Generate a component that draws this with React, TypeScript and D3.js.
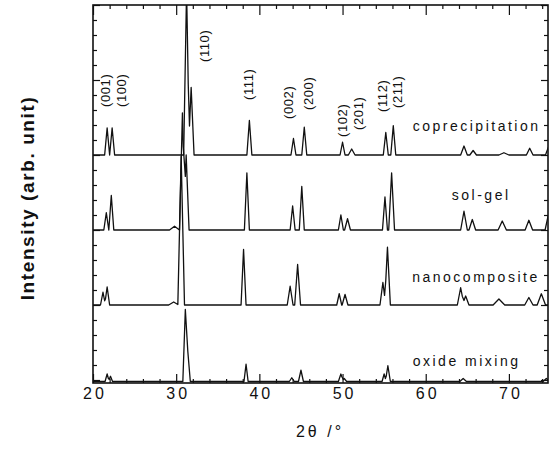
import React, { useEffect, useRef } from "react";
import * as d3 from "d3";

const W = 550, H = 452;
const margin = { top: 5, right: 2, bottom: 69, left: 93 };
const X_MIN = 20, X_MAX = 74.7;

const xTicks = [20, 30, 40, 50, 60, 70];
const seriesNames = ["coprecipitation", "sol-gel", "nanocomposite", "oxide mixing"];
const seriesOffsets = [15, 10, 5, -0.1];

// peaks: [2theta, height (arb.), half width at base]
const coprecipitationPeaks = [
  [21.7, 1.8, 0.3], [22.3, 1.8, 0.3], [31.25, 11, 0.35], [31.8, 4.5, 0.35],
  [38.8, 2.3, 0.3], [44.1, 1.1, 0.3], [45.4, 1.85, 0.3], [50.0, 0.85, 0.3],
  [51.1, 0.4, 0.4], [55.2, 1.5, 0.3], [56.1, 1.95, 0.3], [64.6, 0.6, 0.4],
  [65.7, 0.3, 0.4], [69.4, 0.15, 0.6], [72.5, 0.45, 0.4], [74.8, 0.6, 0.4],
];
const solGelPeaks = [
  [21.6, 1.15, 0.3], [22.2, 2.3, 0.3], [29.8, 0.25, 0.6], [30.75, 7.8, 0.35],
  [31.2, 5, 0.35], [38.5, 3.8, 0.3], [44.0, 1.6, 0.3], [45.1, 2.9, 0.3],
  [49.8, 1.0, 0.3], [50.6, 0.75, 0.35], [55.1, 2.2, 0.3], [55.9, 3.8, 0.35],
  [64.6, 1.25, 0.4], [65.6, 0.7, 0.4], [69.2, 0.6, 0.5], [72.4, 0.65, 0.45],
  [74.7, 0.9, 0.35],
];
const nanocompositePeaks = [
  [21.2, 0.85, 0.3], [21.7, 1.2, 0.3], [29.7, 0.2, 0.6], [30.6, 9.9, 0.4],
  [38.1, 3.7, 0.3], [43.7, 1.25, 0.35], [44.6, 2.7, 0.35], [49.6, 0.75, 0.3],
  [50.3, 0.7, 0.35], [54.85, 1.5, 0.35], [55.4, 3.85, 0.35], [64.2, 1.15, 0.4],
  [64.8, 0.6, 0.4], [68.8, 0.4, 0.7], [72.4, 0.5, 0.5], [73.9, 0.75, 0.5],
];
const oxideMixingPeaks = [
  [21.7, 0.5, 0.25], [22.1, 0.35, 0.25], [31.1, 4.8, 0.3], [31.4, 2.0, 0.3],
  [38.4, 1.15, 0.25], [43.9, 0.25, 0.3], [45.0, 0.75, 0.3], [49.8, 0.5, 0.3],
  [50.2, 0.2, 0.3], [55.0, 0.5, 0.25], [55.45, 1.05, 0.3], [64.5, 0.2, 0.4],
  [74.5, 0.2, 0.4],
];
const seriesPeaks = [coprecipitationPeaks, solGelPeaks, nanocompositePeaks, oxideMixingPeaks];

// series name positions: [2theta of right end, y baseline (arb.)]
const seriesLabelPos = [[73.5, 16.6], [69.9, 12.0], [73.4, 6.55], [71.1, 0.95]];

// reflection labels: text, 2theta of centre, y of lower end
const hklLabels = ["(001)", "(100)", "(110)", "(111)", "(002)", "(200)", "(102)", "(201)", "(112)", "(211)"];
const hklX = [21.45, 23.45, 33.45, 38.75, 43.55, 45.95, 49.95, 51.95, 54.85, 56.65];
const hklY = [18.2, 18.2, 21.2, 18.67, 17.4, 18.0, 16.2, 16.67, 17.87, 18.13];

function tracePoints(peaks: number[][], offset: number): [number, number][] {
  const xs: number[] = [X_MIN, X_MAX];
  peaks.forEach(([p, , w]) => xs.push(p - w, p, p + w));
  const uniq = Array.from(new Set(xs.filter(v => v >= X_MIN - 1 && v <= X_MAX + 1))).sort((a, b) => a - b);
  return uniq.map(x => {
    let s = 0;
    peaks.forEach(([p, h, w]) => { s += Math.max(0, 1 - Math.abs(x - p) / w) * h; });
    return [x, offset + s];
  });
}

export default function App() {
  const ref = useRef<SVGSVGElement>(null);

  useEffect(() => {
    const svg = d3.select(ref.current);
    svg.selectAll("*").remove();
    const innerW = W - margin.left - margin.right;
    const innerH = H - margin.top - margin.bottom;
    const font = "'Liberation Sans', Arial, Helvetica, sans-serif";

    const x = d3.scaleLinear().domain([X_MIN, X_MAX]).range([margin.left, margin.left + innerW]);
    const y = d3.scaleLinear().domain([-0.2, 25]).range([margin.top + innerH, margin.top]);

    svg.append("clipPath").attr("id", "plotclip")
      .append("rect").attr("x", margin.left).attr("y", margin.top).attr("width", innerW).attr("height", innerH);

    const minorX = d3.range(20, 75, 2).filter(v => v % 10 !== 0);
    const yTicks = d3.range(0, 26);
    const majorY = yTicks.filter(v => v % 5 === 0);
    const minorY = yTicks.filter(v => v % 5 !== 0);

    const axisStyle = (g: any) => {
      g.select(".domain").remove();
      g.selectAll("line").attr("stroke", "#111").attr("stroke-width", 1.2);
    };

    // bottom
    svg.append("g").attr("transform", `translate(0,${margin.top + innerH})`)
      .call(d3.axisBottom(x).tickValues(xTicks).tickSize(-9).tickPadding(5).tickFormat(d3.format("d")))
      .call(axisStyle)
      .selectAll("text").attr("font-family", font).attr("font-size", 16).attr("letter-spacing", 3)
      .attr("fill", "#111").attr("dx", 1.5);
    svg.append("g").attr("transform", `translate(0,${margin.top + innerH})`)
      .call(d3.axisBottom(x).tickValues(minorX).tickSize(-4).tickFormat(() => ""))
      .call(axisStyle);
    // top
    svg.append("g").attr("transform", `translate(0,${margin.top})`)
      .call(d3.axisTop(x).tickValues(xTicks).tickSize(-10).tickFormat(() => ""))
      .call(axisStyle);
    svg.append("g").attr("transform", `translate(0,${margin.top})`)
      .call(d3.axisTop(x).tickValues(minorX).tickSize(-4).tickFormat(() => ""))
      .call(axisStyle);
    // left / right
    svg.append("g").attr("transform", `translate(${margin.left},0)`)
      .call(d3.axisLeft(y).tickValues(majorY).tickSize(-7).tickFormat(() => ""))
      .call(axisStyle);
    svg.append("g").attr("transform", `translate(${margin.left},0)`)
      .call(d3.axisLeft(y).tickValues(minorY).tickSize(-4).tickFormat(() => ""))
      .call(axisStyle);
    svg.append("g").attr("transform", `translate(${margin.left + innerW},0)`)
      .call(d3.axisRight(y).tickValues(majorY).tickSize(-7).tickFormat(() => ""))
      .call(axisStyle);
    svg.append("g").attr("transform", `translate(${margin.left + innerW},0)`)
      .call(d3.axisRight(y).tickValues(minorY).tickSize(-4).tickFormat(() => ""))
      .call(axisStyle);

    // traces
    const line = d3.line<[number, number]>().x(d => x(d[0])).y(d => y(d[1]));
    svg.append("g").attr("clip-path", "url(#plotclip)")
      .selectAll("path")
      .data(seriesPeaks.map((p, i) => tracePoints(p, seriesOffsets[i])))
      .join("path")
      .attr("d", d => line(d))
      .attr("fill", "none")
      .attr("stroke", "#111")
      .attr("stroke-width", 1.3)
      .attr("stroke-linejoin", "round");

    // frame
    svg.append("rect")
      .attr("x", margin.left).attr("y", margin.top)
      .attr("width", innerW).attr("height", innerH)
      .attr("fill", "none").attr("stroke", "#111").attr("stroke-width", 1.6);

    // series names (letter-spacing leaves a trailing gap, so nudge right)
    svg.append("g").selectAll("text")
      .data(seriesNames)
      .join("text")
      .attr("x", (d, i) => x(seriesLabelPos[i][0]) + 2.5)
      .attr("y", (d, i) => y(seriesLabelPos[i][1]))
      .attr("text-anchor", "end")
      .attr("font-family", font).attr("font-size", 14).attr("letter-spacing", 2.5)
      .attr("fill", "#111")
      .text(d => d);

    // reflection labels
    svg.append("g").selectAll("text")
      .data(hklLabels)
      .join("text")
      .attr("transform", (d, i) => `translate(${x(hklX[i])},${y(hklY[i])}) rotate(-90)`)
      .attr("dominant-baseline", "central")
      .attr("font-family", font).attr("font-size", 13).attr("letter-spacing", 0.6)
      .attr("fill", "#111")
      .text(d => d);

    // axis titles
    svg.append("text")
      .attr("x", 320).attr("y", 437)
      .attr("text-anchor", "middle")
      .attr("font-family", font).attr("font-size", 16).attr("letter-spacing", 3)
      .attr("fill", "#111")
      .text("2θ /°");

    svg.append("text")
      .attr("transform", `translate(27,${(margin.top + innerH / 2 + 4)}) rotate(-90)`)
      .attr("text-anchor", "middle")
      .attr("dominant-baseline", "central")
      .attr("font-family", font).attr("font-size", 19).attr("font-weight", "bold").attr("letter-spacing", 1.6)
      .attr("fill", "#111")
      .text("Intensity (arb. unit)");
  }, []);

  return (
    <div style={{ position: "absolute", left: 0, top: 0 }}>
      <svg ref={ref} width={W} height={H} style={{ display: "block", background: "#fff" }} />
    </div>
  );
}
